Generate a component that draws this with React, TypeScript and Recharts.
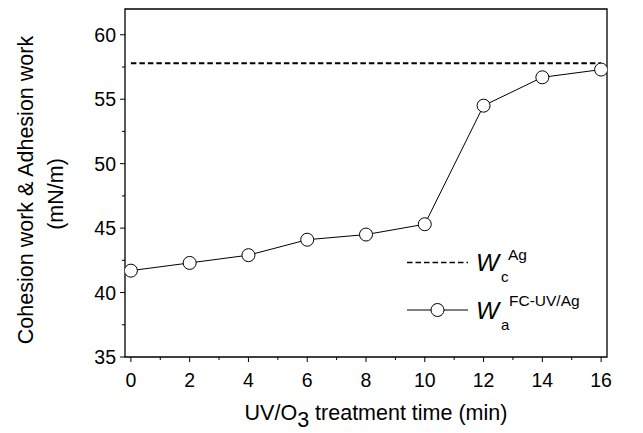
import { LineChart, Line, XAxis, YAxis, ReferenceLine, ReferenceArea } from "recharts";

// ── Data ─────────────────────────────────────────────────────────────────────

const times = [0, 2, 4, 6, 8, 10, 12, 14, 16];
const waFcUvAg = [41.7, 42.3, 42.9, 44.1, 44.5, 45.3, 54.5, 56.7, 57.3];
const wcAg = 57.8;

const xTicks = [0, 1, 2, 3, 4, 5, 6, 7, 8, 9, 10, 11, 12, 13, 14, 15, 16];
const yTicks = [35, 37.5, 40, 42.5, 45, 47.5, 50, 52.5, 55, 57.5, 60];

const data = times.map((t, i) => ({ t, wa: waFcUvAg[i] }));

const FONT = "'Liberation Sans', Arial, Helvetica, sans-serif";

// ── Ticks ────────────────────────────────────────────────────────────────────

function XTick({ x, y, payload }: any) {
  const v = payload.value;
  const major = v % 2 === 0;
  return (
    <g>
      <line x1={x} x2={x} y1={y} y2={y + (major ? 5 : 3)} stroke="#000" strokeWidth={1} />
      {major && (
        <text x={x} y={y + 30} textAnchor="middle" fontSize={19.5} fontFamily={FONT} fill="#000">
          {v}
        </text>
      )}
    </g>
  );
}

function YTick({ x, y, payload }: any) {
  const v = payload.value;
  const major = v % 5 === 0;
  return (
    <g>
      <line x1={x} x2={x - (major ? 5 : 3)} y1={y} y2={y} stroke="#000" strokeWidth={1} />
      {major && (
        <text x={x - 9} y={y + 7} textAnchor="end" fontSize={19.5} fontFamily={FONT} fill="#000">
          {v}
        </text>
      )}
    </g>
  );
}

// ── Chart ────────────────────────────────────────────────────────────────────

export default function App() {
  return (
    <div style={{ position: "absolute", left: 0, top: 0, width: 643, height: 433, background: "#fff" }}>
      <LineChart width={643} height={433} data={data} margin={{ top: 9, right: 36, bottom: 46, left: 65 }}>
        <XAxis
          dataKey="t"
          type="number"
          domain={[-0.2, 16.2]}
          ticks={xTicks}
          interval={0}
          tickSize={0}
          tickMargin={0}
          tick={<XTick />}
          axisLine={false}
          tickLine={false}
          height={30}
          allowDataOverflow
        />
        <YAxis
          type="number"
          domain={[35, 62]}
          ticks={yTicks}
          interval={0}
          tickSize={0}
          tickMargin={0}
          tick={<YTick />}
          axisLine={false}
          tickLine={false}
          width={60}
          allowDataOverflow
        />
        <ReferenceArea x1={-0.2} x2={16.2} y1={35} y2={62} fill="none" stroke="#000" strokeWidth={1.3} />
        <ReferenceLine
          segment={[
            { x: times[0], y: wcAg },
            { x: times[times.length - 1], y: wcAg },
          ]}
          stroke="#000"
          strokeWidth={2}
          strokeDasharray="5.5 3"
        />
        <Line
          dataKey="wa"
          stroke="#000"
          strokeWidth={1}
          isAnimationActive={false}
          dot={{ r: 6.5, fill: "#fff", stroke: "#000", strokeWidth: 1 }}
          activeDot={false}
        />
      </LineChart>

      {/* Axis titles and legend */}
      <svg
        width={643}
        height={433}
        style={{ position: "absolute", left: 0, top: 0, pointerEvents: "none" }}
        fontFamily={FONT}
      >
        <text x={376} y={420} textAnchor="middle" fontSize={21.5} fill="#000">
          UV/O<tspan dy={7}>3</tspan>
          <tspan dy={-7}> treatment time (min)</tspan>
        </text>
        <text transform="translate(33,190) rotate(-90)" textAnchor="middle" fontSize={21.5} fill="#000">
          Cohesion work &amp; Adhesion work
        </text>
        <text transform="translate(63,194) rotate(-90)" textAnchor="middle" fontSize={21.5} fill="#000">
          (mN/m)
        </text>

        <line x1={407} x2={468} y1={262.5} y2={262.5} stroke="#000" strokeWidth={1.7} strokeDasharray="5.5 3" />
        <text x={476} y={271} fontSize={24.5} fontStyle="italic" fill="#000">W</text>
        <text x={501} y={282} fontSize={15} fill="#000">c</text>
        <text x={508} y={259.5} fontSize={15.5} fill="#000">Ag</text>

        <line x1={407} x2={468} y1={310} y2={310} stroke="#000" strokeWidth={1} />
        <circle cx={437.5} cy={310} r={6.5} fill="#fff" stroke="#000" strokeWidth={1} />
        <text x={476} y={318.5} fontSize={24.5} fontStyle="italic" fill="#000">W</text>
        <text x={501} y={330} fontSize={15} fill="#000">a</text>
        <text x={509} y={305.5} fontSize={15.5} fill="#000">FC-UV/Ag</text>
      </svg>
    </div>
  );
}
